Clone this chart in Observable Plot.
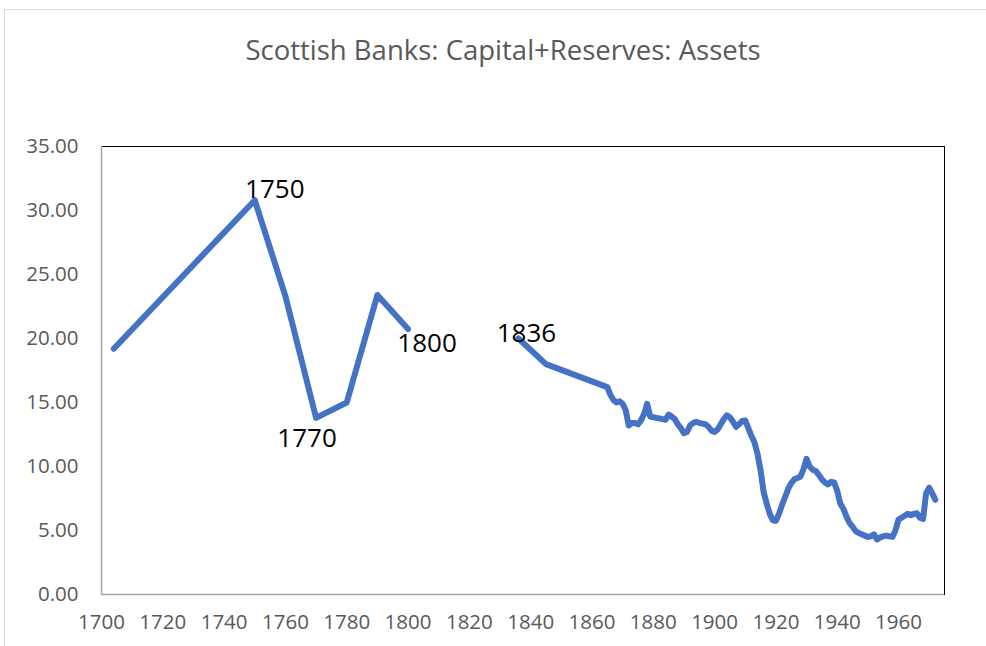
<!DOCTYPE html>
<html>
<head>
<meta charset="utf-8">
<script src="https://cdn.jsdelivr.net/npm/d3@7"></script>
<script src="https://cdn.jsdelivr.net/npm/@observablehq/plot@0.6"></script>
<style>
  html, body { margin: 0; padding: 0; background: white; }
  #wrap { position: relative; width: 986px; height: 646px; overflow: hidden; }
  #border { position: absolute; left: 4px; top: 9px; width: 1200px; height: 900px;
            border-left: 1px solid #d9d9d9; border-top: 1px solid #d9d9d9; pointer-events: none; }
  #chart { position: absolute; left: 0; top: 0; }
</style>
</head>
<body>
<div id="wrap"><div id="chart"></div><div id="border"></div></div>
<script>
const title = "Scottish Banks: Capital+Reserves: Assets";

// Early period (gap after 1800)
const yearsEarly = [1704, 1750, 1760, 1770, 1780, 1790, 1800];
const valuesEarly = [19.2, 30.8, 23.3, 13.8, 15.0, 23.4, 20.75];

// Later period
const yearsLate = [1836, 1845, 1865, 1866, 1867, 1868, 1869, 1870, 1871, 1872, 1873, 1874, 1875, 1876, 1877, 1878, 1879,
  1880, 1881, 1882, 1883, 1884, 1885, 1886, 1887, 1888, 1889, 1890, 1891, 1892, 1893, 1894, 1895, 1896, 1897, 1898, 1899,
  1900, 1901, 1902, 1903, 1904, 1905, 1906, 1907, 1908, 1909, 1910, 1911, 1912, 1913, 1914, 1915, 1916, 1917, 1918, 1919,
  1920, 1921, 1922, 1923, 1924, 1925, 1926, 1927, 1928, 1929, 1930, 1931, 1932, 1933, 1934, 1935, 1936, 1937, 1938, 1939,
  1940, 1941, 1942, 1943, 1944, 1945, 1946, 1947, 1948, 1949, 1950, 1951, 1952, 1953, 1954, 1955, 1956, 1957, 1958, 1959,
  1960, 1961, 1962, 1963, 1964, 1965, 1966, 1967, 1968, 1969, 1970, 1971, 1972];
const valuesLate = [20.0, 18.0, 16.2, 15.6, 15.2, 15.0, 15.1, 14.9, 14.4, 13.2, 13.4, 13.4, 13.3, 13.6, 14.1, 14.9, 13.9,
  13.85, 13.8, 13.75, 13.7, 13.65, 14.05, 13.9, 13.7, 13.3, 13.0, 12.6, 12.7, 13.2, 13.4, 13.5, 13.4, 13.35, 13.3, 13.1, 12.8,
  12.7, 12.9, 13.3, 13.7, 14.0, 13.85, 13.5, 13.1, 13.3, 13.55, 13.6, 13.0, 12.4, 11.9, 11.0, 9.7, 8.0, 7.1, 6.3, 5.8,
  5.75, 6.3, 7.0, 7.6, 8.25, 8.7, 9.0, 9.1, 9.2, 9.8, 10.6, 10.0, 9.75, 9.65, 9.35, 9.0, 8.75, 8.6, 8.8, 8.75,
  8.1, 7.1, 6.7, 6.1, 5.6, 5.3, 4.95, 4.8, 4.7, 4.6, 4.5, 4.55, 4.7, 4.3, 4.45, 4.55, 4.6, 4.55, 4.5, 5.0,
  5.85, 6.0, 6.15, 6.3, 6.2, 6.3, 6.35, 6.0, 5.9, 7.9, 8.35, 7.9, 7.4];

const labelYears = [1750, 1770, 1800, 1836];
const xTicks = [1700, 1720, 1740, 1760, 1780, 1800, 1820, 1840, 1860, 1880, 1900, 1920, 1940, 1960];
const yTicks = [0, 5, 10, 15, 20, 25, 30, 35];

// Build table (null entry breaks the line between 1800 and 1836)
const data = [
  ...yearsEarly.map((y, i) => ({year: y, value: valuesEarly[i]})),
  {year: 1818, value: null},
  ...yearsLate.map((y, i) => ({year: y, value: valuesLate[i]}))
];
const labelOffsets = {1750: [20, -11], 1770: [-9, 21], 1800: [19, 15], 1836: [8, -5]};
const labelMarks = labelYears.map(yr => Plot.text(data.filter(d => d.year === yr), {
  x: "year", y: "value", text: d => String(d.year),
  dx: labelOffsets[yr][0], dy: labelOffsets[yr][1],
  fontSize: 26, fill: "black", textAnchor: "middle", lineAnchor: "middle"
}));

const chart = Plot.plot({
  width: 986, height: 646,
  marginLeft: 101, marginRight: 42, marginTop: 146, marginBottom: 52,
  style: {fontFamily: "'Open Sans', sans-serif", fontSize: "20.5px", color: "#595959", background: "transparent"},
  x: {domain: [1700, 1975], ticks: xTicks, tickFormat: d => String(d), tickSize: 0, tickPadding: 20, label: null},
  y: {domain: [0, 35], ticks: yTicks, tickFormat: d3.format(".2f"), tickSize: 0, tickPadding: 23, label: null},
  marks: [
    Plot.frame({stroke: "black", strokeWidth: 1}),
    Plot.ruleX([1700], {stroke: "#a6a6a6", strokeWidth: 1.5}),
    Plot.ruleY([0], {stroke: "#a6a6a6", strokeWidth: 1.5}),
    Plot.line(data, {x: "year", y: "value", stroke: "#4472C4", strokeWidth: 6,
      strokeLinecap: "round", strokeLinejoin: "round"}),
    ...labelMarks,
    Plot.text([title], {text: d => d, frameAnchor: "top", dx: -20, dy: -95, lineAnchor: "middle",
      fontSize: 27.5, fill: "#595959"})
  ]
});
document.getElementById("chart").appendChild(chart);
</script>
</body>
</html>
